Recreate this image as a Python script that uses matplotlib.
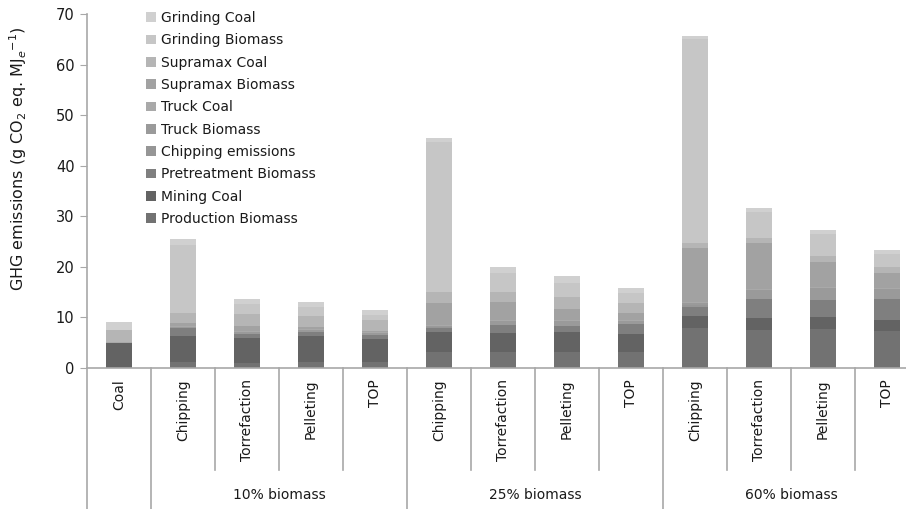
import matplotlib
matplotlib.use("Agg")
import matplotlib.pyplot as plt
import numpy as np

categories = [
    "Coal",
    "Chipping", "Torrefaction", "Pelleting", "TOP",
    "Chipping", "Torrefaction", "Pelleting", "TOP",
    "Chipping", "Torrefaction", "Pelleting", "TOP",
]
groups = ["10% biomass", "25% biomass", "60% biomass"]
group_size = 4

# stacked from the bottom up
production_biomass = [0, 1.2, 1.05, 1.25, 1.25, 3.1, 3.1, 3.1, 3.1, 7.9, 7.5, 7.8, 7.4]
mining_coal = [5.0, 5.1, 4.95, 5.05, 4.45, 4.0, 3.9, 4.1, 3.6, 2.4, 2.3, 2.3, 2.1]
pretreatment_biomass = [0, 1.6, 0.8, 0.9, 0.9, 0.9, 1.6, 1.2, 2.0, 1.8, 3.8, 3.3, 4.1]
chipping_emissions = [0, 0.1, 0, 0, 0, 0.2, 0, 0, 0, 0.4, 0, 0, 0]
truck_biomass = [0, 0.1, 0.3, 0.3, 0.3, 0.2, 0.7, 0.9, 0.6, 0.3, 1.8, 2.5, 2.1]
truck_coal = [0.2, 0.2, 0.2, 0.2, 0.2, 0.2, 0.2, 0.2, 0.2, 0.2, 0.2, 0.2, 0.2]
supramax_biomass = [0, 0.5, 1.0, 0.5, 0.3, 4.2, 3.6, 2.2, 1.4, 10.7, 9.1, 4.9, 2.9]
supramax_coal = [2.3, 2.1, 2.4, 2.1, 2.1, 2.3, 2.0, 2.3, 2.0, 1.0, 1.1, 1.2, 1.2]
grinding_biomass = [0, 13.4, 1.9, 1.7, 1.0, 29.5, 3.7, 2.9, 2.0, 40.4, 5.1, 4.3, 2.6]
grinding_coal = [1.5, 1.2, 1.0, 1.1, 1.05, 0.9, 1.1, 1.2, 1.0, 0.6, 0.7, 0.7, 0.7]

series = [
    ("Production Biomass", production_biomass, "#727272"),
    ("Mining Coal", mining_coal, "#636363"),
    ("Pretreatment Biomass", pretreatment_biomass, "#7f7f7f"),
    ("Chipping emissions", chipping_emissions, "#969696"),
    ("Truck Biomass", truck_biomass, "#9a9a9a"),
    ("Truck Coal", truck_coal, "#a9a9a9"),
    ("Supramax Biomass", supramax_biomass, "#a2a2a2"),
    ("Supramax Coal", supramax_coal, "#b5b5b5"),
    ("Grinding Biomass", grinding_biomass, "#c6c6c6"),
    ("Grinding Coal", grinding_coal, "#d0d0d0"),
]

W, H = 906, 509
fig = plt.figure(figsize=(W / 100, H / 100), dpi=100)
plt.rcParams["font.family"] = "DejaVu Sans"
text_col = "#1a1a1a"

ax_left, ax_top, ax_bottom = 87, 14, 368
cat_px = 64
ax = fig.add_axes([
    ax_left / W,
    (H - ax_bottom) / H,
    len(categories) * cat_px / W,
    (ax_bottom - ax_top) / H,
])

x = np.arange(len(categories))
bottom = np.zeros(len(categories))
handles = []
for name, vals, color in series:
    vals = np.asarray(vals, dtype=float)
    b = ax.bar(x, vals, width=0.4, bottom=bottom, color=color,
               edgecolor="none", label=name)
    handles.append(b)
    bottom += vals

ax.set_xlim(-0.5, len(categories) - 0.5)
ax.set_ylim(0, 70)
ax.set_yticks(np.arange(0, 71, 10))
ax.set_xticks(x)
ax.set_xticklabels(categories, rotation=90, fontsize=10, color=text_col)

axis_grey = "#a8a8a8"
for side in ("top", "right"):
    ax.spines[side].set_visible(False)
ax.spines["left"].set_color(axis_grey)
ax.spines["bottom"].set_color(axis_grey)
ax.spines["left"].set_linewidth(1.2)
ax.spines["bottom"].set_linewidth(1.2)
ax.tick_params(axis="y", length=5, color=axis_grey, labelsize=10.5,
               labelcolor=text_col, pad=4)
ax.tick_params(axis="x", length=0, pad=8)

# category separators below the axis: short within groups, long at group edges
tr = ax.get_xaxis_transform()
short_end = -(470 - ax_bottom) / (ax_bottom - ax_top)
long_end = -(H - ax_bottom) / (ax_bottom - ax_top)
for i in range(len(categories) + 1):
    xb = i - 0.5
    long_line = i in (0, 1) or (i - 1) % group_size == 0
    ax.plot([xb, xb], [0, long_end if long_line else short_end],
            transform=tr, color=axis_grey, lw=1.2, clip_on=False)

# group captions
for g, label in enumerate(groups):
    centre = 1 + g * group_size + (group_size - 1) / 2
    ax.text(centre, -(495 - ax_bottom) / (ax_bottom - ax_top), label,
            transform=tr, ha="center", va="center", fontsize=10,
            color=text_col)

fig.text(18 / W, 1 - 159 / H,
         r"GHG emissions (g CO$_2$ eq. MJ$_e$$^{-1}$)",
         rotation=90, ha="center", va="center", fontsize=11.5,
         color=text_col)

leg = ax.legend(handles[::-1], [s[0] for s in series][::-1],
                loc="upper left", bbox_to_anchor=(139 / W, 1 - 4 / H),
                bbox_transform=fig.transFigure, frameon=False,
                fontsize=10, handlelength=0.7, handleheight=0.7,
                handletextpad=0.4, labelspacing=0.6, borderpad=0)
for t in leg.get_texts():
    t.set_color(text_col)

fig.savefig("out.png", dpi=100)
